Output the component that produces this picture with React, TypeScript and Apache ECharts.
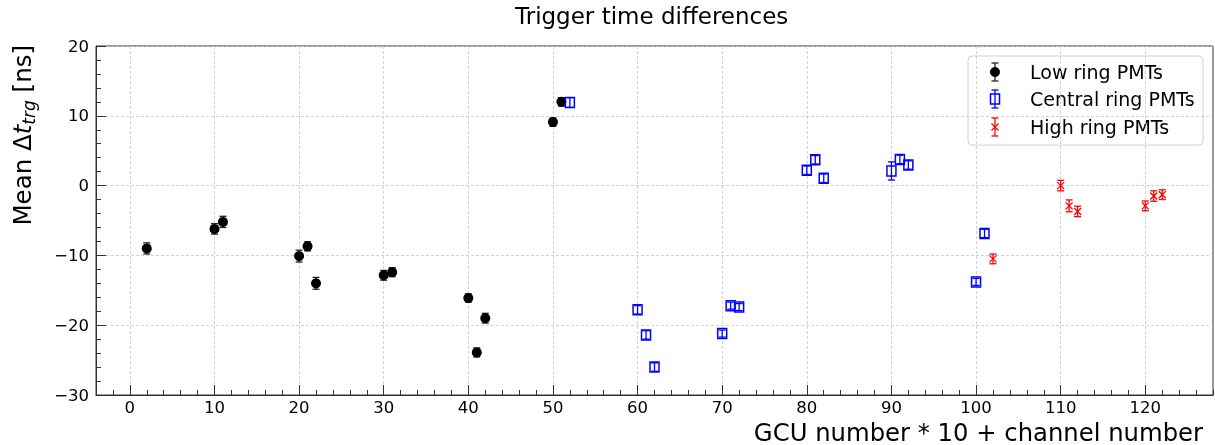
import React, { useEffect, useRef } from 'react';
import * as echarts from 'echarts';

const FONT = 'DejaVu Sans';

// Low ring PMTs
const lowX = [2, 10, 11, 20, 21, 22, 30, 31, 40, 41, 42, 50, 51];
const lowY = [-9.0, -6.2, -5.2, -10.1, -8.7, -14.0, -12.85, -12.4, -16.1, -23.9, -19.0, 9.1, 12.0];
const lowErr = [0.8, 0.75, 0.8, 0.85, 0.65, 0.85, 0.7, 0.65, 0.6, 0.65, 0.7, 0.6, 0.6];

// Central ring PMTs
const centralX = [52, 60, 61, 62, 70, 71, 72, 80, 81, 82, 90, 91, 92, 100, 101];
const centralY = [11.9, -17.8, -21.4, -26.0, -21.2, -17.2, -17.4, 2.2, 3.7, 1.05, 2.1, 3.75, 2.95, -13.8, -6.85];
const centralErr = [0.7, 0.6, 0.6, 0.6, 0.5, 0.5, 0.5, 0.6, 0.6, 0.6, 1.3, 0.6, 0.6, 0.5, 0.6];

// High ring PMTs
const highX = [102, 110, 111, 112, 120, 121, 122];
const highY = [-10.5, 0.0, -2.9, -3.7, -2.9, -1.5, -1.3];
const highErr = [0.7, 0.75, 0.85, 0.75, 0.7, 0.75, 0.7];

const xMajorTicks = [0, 10, 20, 30, 40, 50, 60, 70, 80, 90, 100, 110, 120];
const xMinorTicks: number[] = [];
for (let v = -4; v <= 128; v += 2) if (v % 10 !== 0) xMinorTicks.push(v);

const seriesNames = ['Low ring PMTs', 'Central ring PMTs', 'High ring PMTs'];

type Kind = 'circle' | 'square' | 'cross';

function glyph(kind: Kind, cx: number, cy: number, ty: number, by: number, color: string, barColor: string) {
  const ls = { stroke: barColor, lineWidth: 1.3 };
  const cap = 3.5;
  const ch: any[] = [
    { type: 'line', shape: { x1: cx, y1: ty, x2: cx, y2: by }, style: ls },
    { type: 'line', shape: { x1: cx - cap, y1: ty, x2: cx + cap, y2: ty }, style: ls },
    { type: 'line', shape: { x1: cx - cap, y1: by, x2: cx + cap, y2: by }, style: ls },
  ];
  if (kind === 'circle') {
    ch.push({ type: 'circle', shape: { cx, cy, r: 5 }, style: { fill: color } });
  } else if (kind === 'square') {
    ch.push({
      type: 'rect',
      shape: { x: cx - 4.5, y: cy - 5, width: 9, height: 10 },
      style: { fill: 'none', stroke: color, lineWidth: 1.5 },
    });
  } else {
    const s = 3.5;
    ch.push(
      { type: 'line', shape: { x1: cx - s, y1: cy - s, x2: cx + s, y2: cy + s }, style: { stroke: color, lineWidth: 1.3 } },
      { type: 'line', shape: { x1: cx - s, y1: cy + s, x2: cx + s, y2: cy - s }, style: { stroke: color, lineWidth: 1.3 } }
    );
  }
  return ch;
}

function errRender(kind: Kind, color: string, barColor: string) {
  return (_params: any, api: any) => {
    const x = api.value(0);
    const y = api.value(1);
    const e = api.value(2);
    const c = api.coord([x, y]);
    const t = api.coord([x, y + e]);
    const b = api.coord([x, y - e]);
    return { type: 'group', children: glyph(kind, c[0], c[1], t[1], b[1], color, barColor) };
  };
}

function toData(xs: number[], ys: number[], es: number[]) {
  return xs.map((x, i) => [x, ys[i], es[i]]);
}

const minus = (v: number) => String(v).replace('-', '\u2212');

export default function App() {
  const ref = useRef<HTMLDivElement>(null);
  useEffect(() => {
    if (!ref.current) return;
    const chart = echarts.init(ref.current, undefined, { renderer: 'svg' });
    const legendRows = [
      { kind: 'circle' as Kind, color: '#000000', bar: '#222222', y: 72 },
      { kind: 'square' as Kind, color: '#0000ff', bar: '#0000ff', y: 99 },
      { kind: 'cross' as Kind, color: '#ff0000', bar: '#ff0000', y: 127 },
    ];
    const legendChildren: any[] = [
      {
        type: 'rect',
        shape: { x: 968, y: 56, width: 235, height: 89, r: 4 },
        style: { fill: 'rgba(255,255,255,0.85)', stroke: '#d0d0d0', lineWidth: 1 },
      },
    ];
    legendRows.forEach((r, i) => {
      legendChildren.push(...glyph(r.kind, 995, r.y, r.y - 9, r.y + 9, r.color, r.bar));
      legendChildren.push({
        type: 'text',
        x: 1030,
        y: r.y,
        style: { text: seriesNames[i], fontFamily: FONT, fontSize: 19, lineHeight: 22, fill: '#000', verticalAlign: 'middle', align: 'left' },
      });
    });

    const option: any = {
      animation: false,
      title: {
        text: 'Trigger time differences',
        left: 515,
        top: 4,
        padding: 0,
        textStyle: { fontFamily: FONT, fontSize: 23, fontWeight: 'normal', color: '#000' },
      },
      grid: { left: 96, right: 2, top: 46, bottom: 50, show: true, borderColor: '#333', borderWidth: 1, backgroundColor: 'transparent' },
      xAxis: [
        {
          type: 'value',
          min: -4,
          max: 128,
          position: 'bottom',
          axisLine: { show: true, onZero: false, lineStyle: { color: '#333', width: 1 } },
          axisTick: { show: true, inside: true, length: 10, customValues: xMajorTicks, lineStyle: { color: '#333', width: 1 } },
          axisLabel: {
            customValues: xMajorTicks,
            fontSize: 16.5,
            lineHeight: 14,
            color: '#000',
            fontFamily: FONT,
            margin: 5,
            formatter: (v: number) => minus(v),
          },
          splitLine: { show: true, lineStyle: { type: [3, 2], color: '#c8c8c8', width: 0.8 } },
        },
        {
          type: 'value',
          min: -4,
          max: 128,
          position: 'bottom',
          axisLine: { show: false, onZero: false },
          axisTick: { show: true, inside: true, length: 5, customValues: xMinorTicks, lineStyle: { color: '#333', width: 1 } },
          axisLabel: { show: false },
          splitLine: { show: false },
        },
      ],
      yAxis: {
        type: 'value',
        min: -30,
        max: 20,
        interval: 10,
        axisLine: { show: true, onZero: false, lineStyle: { color: '#333', width: 1 } },
        axisTick: { show: true, inside: true, length: 10, lineStyle: { color: '#333', width: 1 } },
        minorTick: { show: true, splitNumber: 5, length: 5, lineStyle: { color: '#333', width: 1 } },
        axisLabel: { fontSize: 16.5, color: '#000', fontFamily: FONT, margin: 7, formatter: (v: number) => minus(v) },
        splitLine: { show: true, lineStyle: { type: [3, 2], color: '#c8c8c8', width: 0.8 } },
      },
      series: [
        {
          name: seriesNames[0],
          type: 'custom',
          xAxisIndex: 0,
          renderItem: errRender('circle', '#000000', '#222222'),
          encode: { x: 0, y: 1 },
          data: toData(lowX, lowY, lowErr),
        },
        {
          name: seriesNames[1],
          type: 'custom',
          xAxisIndex: 0,
          renderItem: errRender('square', '#0000ff', '#0000ff'),
          encode: { x: 0, y: 1 },
          data: toData(centralX, centralY, centralErr),
        },
        {
          name: seriesNames[2],
          type: 'custom',
          xAxisIndex: 0,
          renderItem: errRender('cross', '#ff0000', '#ff0000'),
          encode: { x: 0, y: 1 },
          data: toData(highX, highY, highErr),
        },
      ],
      graphic: [
        {
          type: 'text',
          x: 22,
          y: 45,
          rotation: Math.PI / 2,
          style: {
            text: '{a|Mean \u0394}{it|t}{sub|trg}{a| [ns]}',
            align: 'right',
            verticalAlign: 'middle',
            fill: '#000',
            rich: {
              a: { fontFamily: FONT, fontSize: 24.5, lineHeight: 30, fill: '#000' },
              it: { fontFamily: FONT, fontSize: 24.5, fontStyle: 'italic', lineHeight: 30, fill: '#000' },
              sub: { fontFamily: FONT, fontSize: 17, fontStyle: 'italic', lineHeight: 14, verticalAlign: 'bottom', fill: '#000' },
            },
          },
        },
        {
          type: 'text',
          x: 1203,
          y: 432,
          style: {
            text: 'GCU number * 10 + channel number',
            fontFamily: FONT,
            fontSize: 24.3,
            lineHeight: 20,
            fill: '#000',
            align: 'right',
            verticalAlign: 'middle',
          },
        },
        { type: 'group', children: legendChildren },
      ],
    };
    chart.setOption(option);
    return () => chart.dispose();
  }, []);
  return <div ref={ref} style={{ position: 'fixed', left: 0, top: 0, width: 1215, height: 445 }} />;
}
